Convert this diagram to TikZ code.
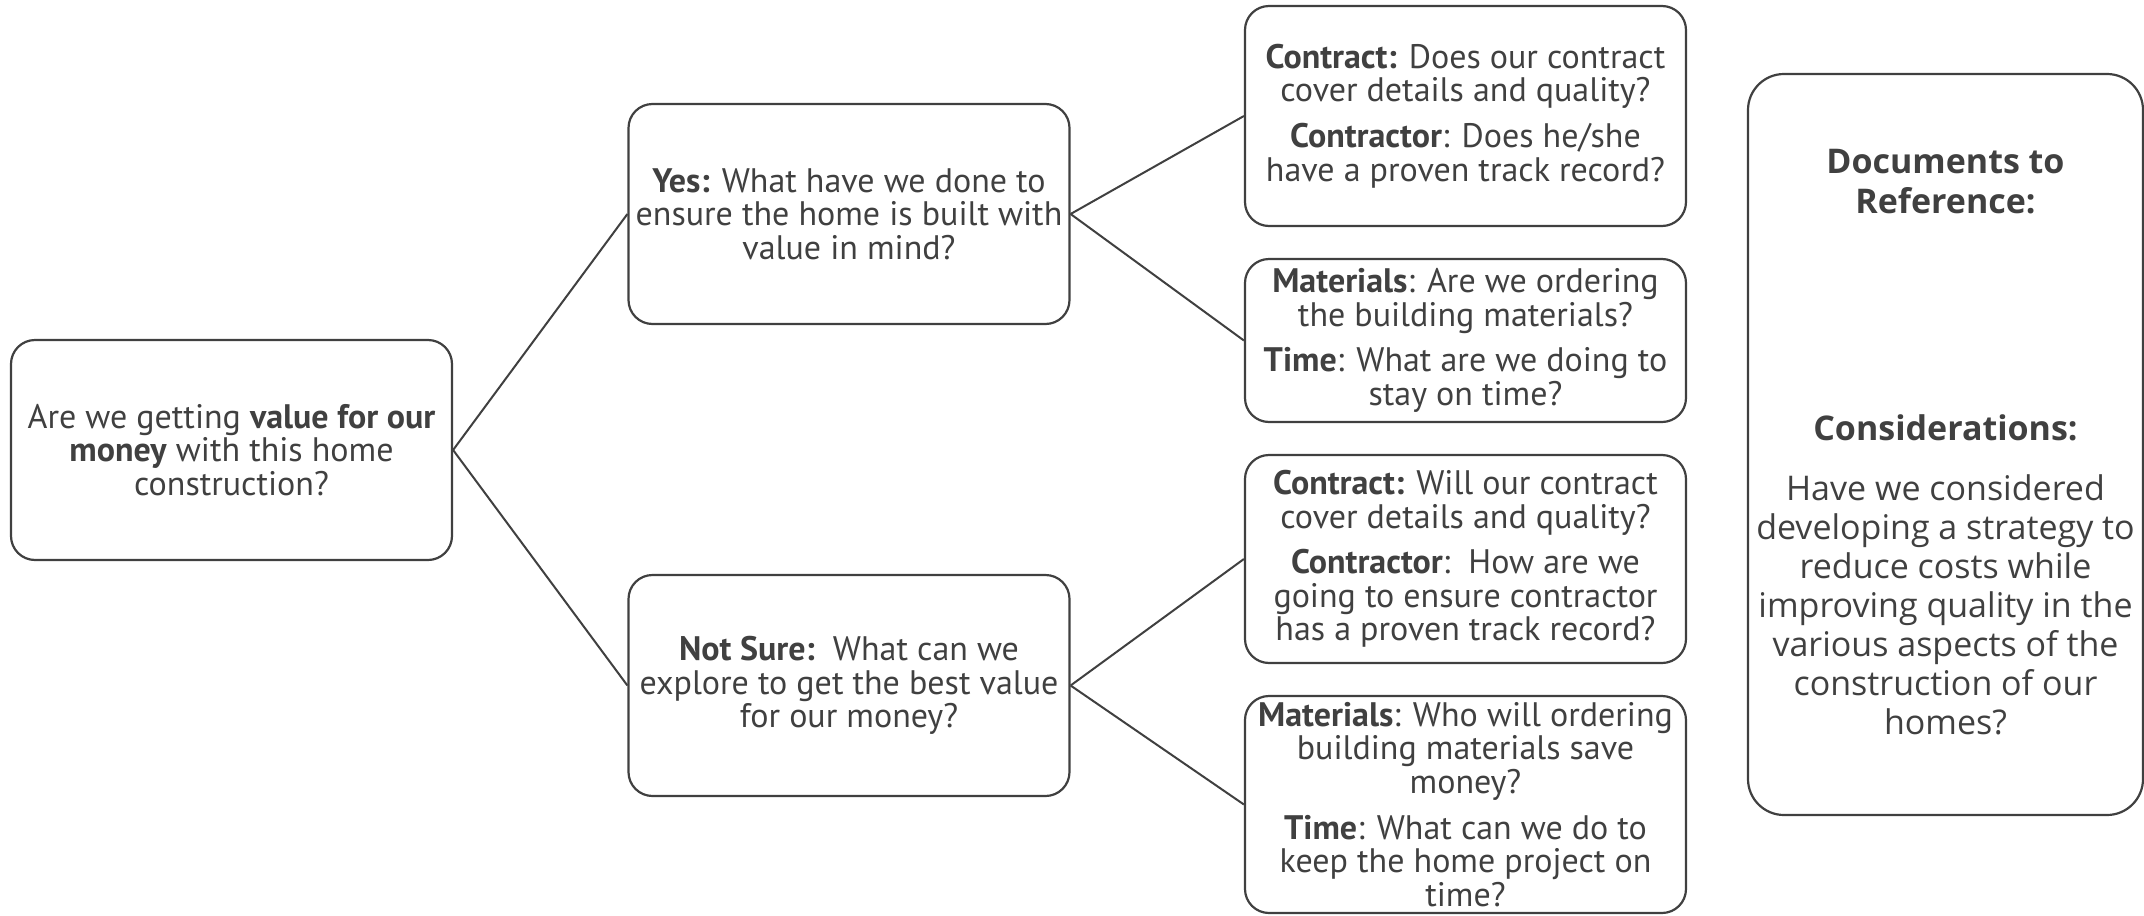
\documentclass[tikz,border=0pt]{standalone}
\usepackage{fontspec}
\setmainfont{PT Sans}
\newfontfamily\rfont{Open Sans}
\definecolor{ink}{HTML}{404040}
\begin{document}
\begin{tikzpicture}[x=0.5pt,y=-0.5pt,
  box/.style={draw=ink, line width=1.1pt, rounded corners=12pt,
    minimum width=220.5pt, inner sep=0pt, align=center, text=ink,
    font=\fontsize{17}{16.8}\selectfont},
  bigbox/.style={draw=ink, line width=1.1pt, rounded corners=18pt,
    minimum width=197.5pt, minimum height=370.5pt, inner sep=0pt},
  rtext/.style={align=center, text=ink, inner sep=0pt,
    font=\rfont\fontsize{17}{19.5}\selectfont},
  link/.style={draw=ink, line width=1pt}]
\useasboundingbox (0,0) rectangle (2144,916);

\node[box, minimum height=110pt] (root) at (231.5,450)
  {Are we getting \textbf{value for our}\\\textbf{money} with this home\\construction?};
\node[box, minimum height=110pt] (yes) at (849,214)
  {\textbf{Yes:} What have we done to\\ensure the home is built with\\value in mind?};
\node[box, minimum height=110.5pt] (ns) at (849,685.5)
  {\textbf{Not Sure:}\ \ What can we\\explore to get the best value\\for our money?};
\node[box, minimum height=110pt] (c1) at (1465.5,116)
  {\textbf{Contract:} Does our contract\\cover details and quality?\\[6pt]\textbf{Contractor}: Does he/she\\have a proven track record?};
\node[box, minimum height=81.5pt] (m1) at (1465.5,340.5)
  {\textbf{Materials}: Are we ordering\\the building materials?\\[6pt]\textbf{Time}: What are we doing to\\stay on time?};
\node[box, minimum height=104pt] (c2) at (1465.5,559)
  {\textbf{Contract:} Will our contract\\cover details and quality?\\[6pt]\textbf{Contractor}:\ \ How are we\\going to ensure contractor\\has a proven track record?};
\node[box, minimum height=108.5pt] (m2) at (1465.5,804.5)
  {\textbf{Materials}: Who will ordering\\building materials save\\money?\\[6pt]\textbf{Time}: What can we do to\\keep the home project on\\time?};

\node[bigbox] (side) at (1945.5,444.5) {};
\node[rtext, font=\rfont\bfseries\fontsize{17}{20}\selectfont] (docs) at (1945.5,182)
  {Documents to\\Reference:};
\node[rtext, font=\rfont\bfseries\fontsize{17}{20}\selectfont] (cons) at (1945.5,428)
  {Considerations:};
\node[rtext] (body) at (1945.5,605)
  {Have we considered\\developing a strategy to\\reduce costs while\\improving quality in the\\various aspects of the\\construction of our\\homes?};

\draw[link] (root.east) -- (yes.west);
\draw[link] (root.east) -- (ns.west);
\draw[link] (yes.east) -- (c1.west);
\draw[link] (yes.east) -- (m1.west);
\draw[link] (ns.east) -- (c2.west);
\draw[link] (ns.east) -- (m2.west);
\end{tikzpicture}
\end{document}
